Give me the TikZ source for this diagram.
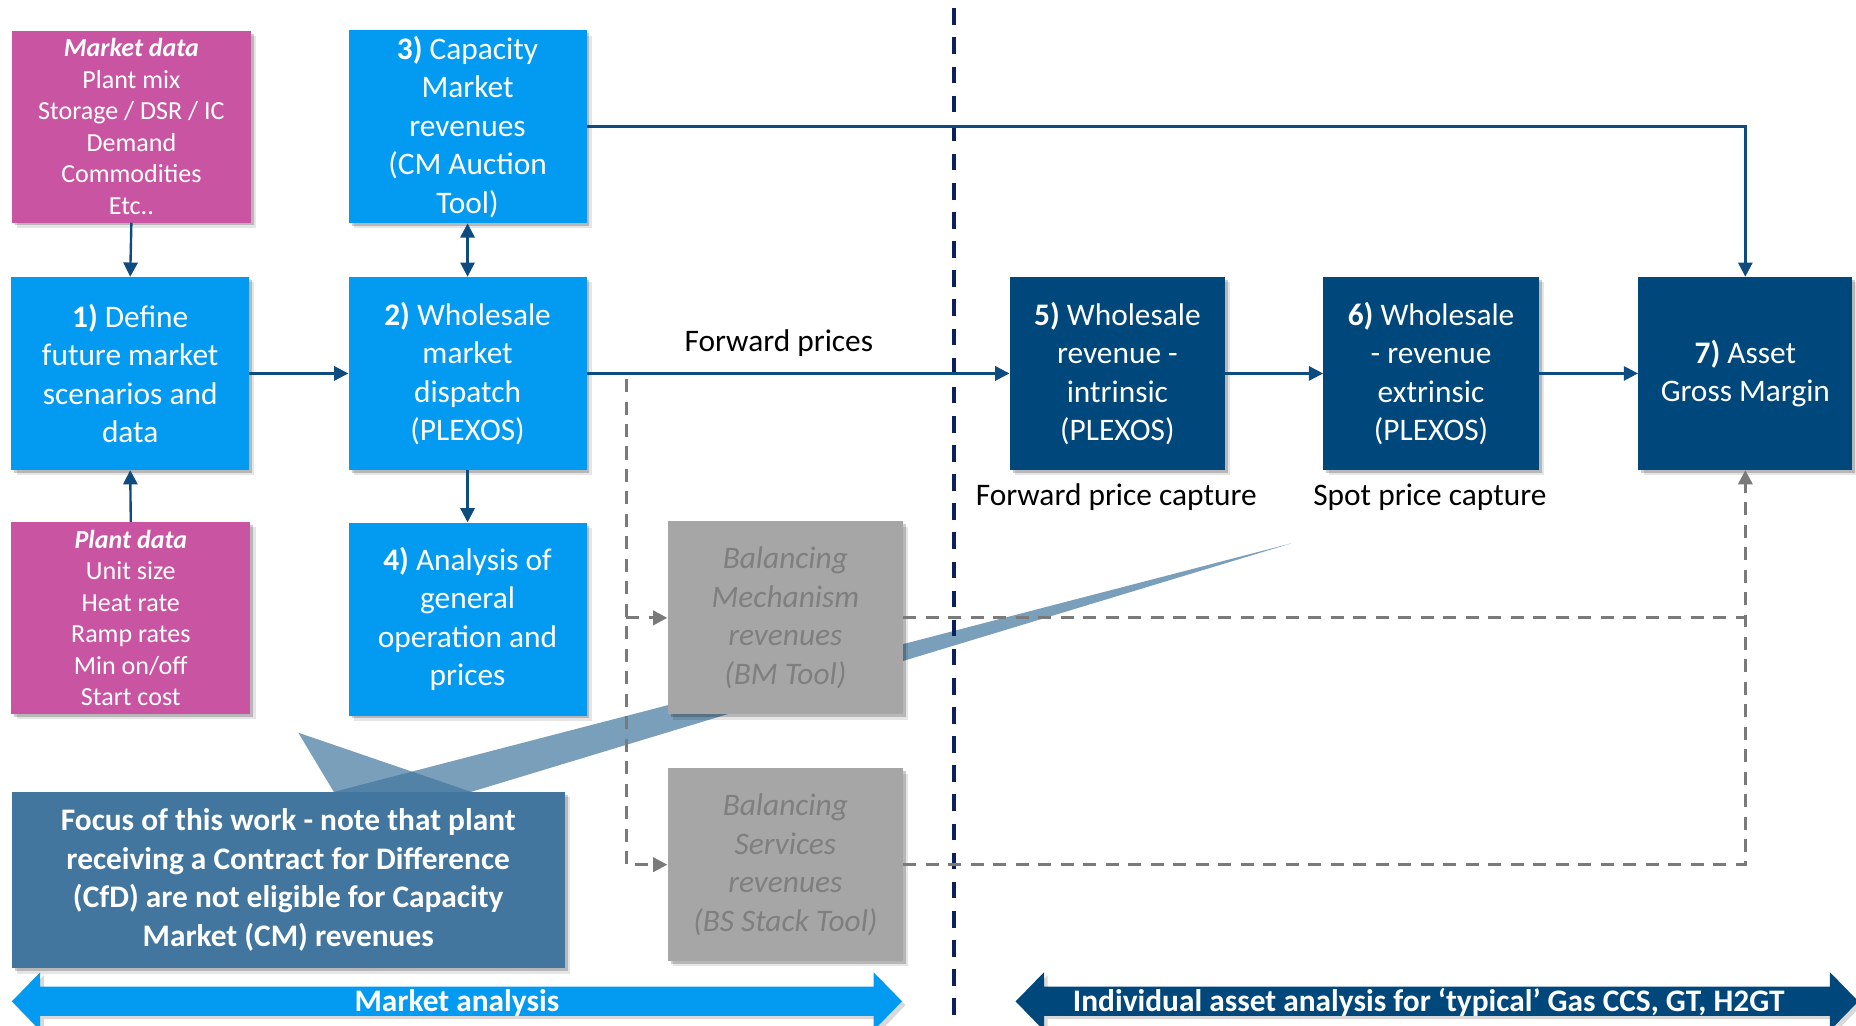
\documentclass[tikz,border=0pt]{standalone}
\usepackage{fontspec}
\setmainfont{Carlito}
\usetikzlibrary{arrows.meta,shadows}

\definecolor{lblue}{HTML}{039BF2}
\definecolor{dblue}{HTML}{00487C}
\definecolor{mdpink}{HTML}{C955A2}
\definecolor{gbox}{HTML}{A6A6A6}
\definecolor{gtext}{HTML}{7F7F7F}
\definecolor{calloutblue}{HTML}{42769E}
\definecolor{linkblue}{HTML}{0E4B7F}
\definecolor{divnavy}{HTML}{0C1F5E}
\definecolor{gline}{HTML}{7A7A7A}

\newcommand\fsbig{\fontsize{26.5}{32.5}\selectfont}
\newcommand\fssmall{\fontsize{22}{26.6}\selectfont}

\tikzset{
  shd/.style={drop shadow={shadow xshift=2.5pt,shadow yshift=-2.5pt,opacity=.2,fill=black},
              drop shadow={shadow xshift=4.5pt,shadow yshift=-4.5pt,opacity=.1,fill=black}},
  boxbase/.style={rectangle,inner sep=0pt,align=center,shd},
  mainbox/.style={boxbase,fill=lblue,text=white,font=\fsbig,minimum width=201pt,minimum height=163pt},
  assetbox/.style={boxbase,fill=dblue,text=white,font=\fsbig,minimum width=182pt,minimum height=163pt},
  databox/.style={boxbase,fill=mdpink,text=white,font=\fssmall,minimum width=202pt,minimum height=162pt},
  greybox/.style={boxbase,fill=gbox,text=gtext,font=\fsbig\itshape,minimum width=199pt,minimum height=163pt},
  conn/.style={draw=linkblue,line width=2pt,-{Triangle[length=12pt,width=12pt]}},
  gconn/.style={draw=gline,line width=2.6pt,dash pattern=on 11pt off 8pt,-{Triangle[length=12pt,width=12pt]}},
  plainlabel/.style={font=\fsbig,text=black,inner sep=0pt},
}

\begin{document}
\begin{tikzpicture}[x=1pt,y=-1pt]
\useasboundingbox (0,0) rectangle (1568,866);
\clip (0,0) rectangle (1568,866);

% callout pointers (semi-transparent wedges)
\coordinate (wl) at (282,669);
\coordinate (wr) at (398,669);
\coordinate (tipA) at (252,619);
\coordinate (tipB) at (1091,459);
\fill[calloutblue,opacity=.7] (tipA) -- (wl) -- (wr) -- cycle;
\fill[calloutblue,opacity=.7] (wl) -- (tipB) -- (wr) -- cycle;

% divider between market and asset analysis
\draw[divnavy,line width=3pt,dash pattern=on 14pt off 10.6pt] (806,7) -- (806,870);

% process boxes
\node[databox] (md) at (111,107) {\textbf{\textit{Market data}}\\Plant mix\\Storage / DSR / IC\\Demand\\Commodities\\Etc..};
\node[mainbox] (b1) at (110,315.5) {\textbf{1)} Define\\future market\\scenarios and\\data};
\node[databox] (pd) at (110.5,522) {\textbf{\textit{Plant data}}\\Unit size\\Heat rate\\Ramp rates\\Min on/off\\Start cost};
\node[mainbox] (b3) at (395,107) {\textbf{3)} Capacity\\Market\\revenues\\(CM Auction\\Tool)};
\node[mainbox] (b2) at (395,315.5) {\textbf{2)} Wholesale\\market\\dispatch\\(PLEXOS)};
\node[mainbox] (b4) at (395,523) {\textbf{4)} Analysis of\\general\\operation and\\prices};
\node[greybox] (bm) at (663.5,522) {Balancing\\Mechanism\\revenues\\(BM Tool)};
\node[greybox] (bs) at (663.5,730.5) {Balancing\\Services\\revenues\\(BS Stack Tool)};
\node[assetbox] (b5) at (944,315.5) {\textbf{5)} Wholesale\\revenue -\\intrinsic\\(PLEXOS)};
\node[assetbox] (b6) at (1209,315.5) {\textbf{6)} Wholesale\\- revenue\\extrinsic\\(PLEXOS)};
\node[assetbox,minimum width=181pt] (b7) at (1474.5,315.5) {\textbf{7)} Asset\\Gross Margin};

% callout box
\node[boxbase,fill=calloutblue,text=white,font=\fsbig\bfseries,minimum width=467pt,minimum height=149pt] (focus) at (243.5,743.5)
  {Focus of this work - note that plant\\receiving a Contract for Difference\\(CfD) are not eligible for Capacity\\Market (CM) revenues};

% labels
\node[plainlabel] (fwd) at (658,290) {Forward prices};
\node[plainlabel] (fpc) at (943,420) {Forward price capture};
\node[plainlabel] (spc) at (1208,420) {Spot price capture};

% balancing (dashed) paths
\coordinate (gx) at (529,315.5);
\draw[gconn] (b2.east) -- (gx) |- (bs.west);
\draw[gconn] (gx |- bm.west) -- (bm.west);
\draw[gconn] (bm.east) -| (b7.south);
\draw[gconn,-] (bs.east) -| (b7.south |- bm.east);

% main flow connectors
\draw[conn] (md.south) -- (b1.north);
\draw[conn] (pd.north) -- (b1.south);
\draw[conn] (b1.east) -- (b2.west);
\draw[conn,{Triangle[length=12pt,width=12pt]}-{Triangle[length=12pt,width=12pt]}] (b3.south) -- (b2.north);
\draw[conn] (b2.south) -- (b4.north);
\draw[conn] (b2.east) -- (b5.west);
\draw[conn] (b5.east) -- (b6.west);
\draw[conn] (b6.east) -- (b7.west);
\draw[conn] (b3.east) -| (b7.north);

% scope arrows along the bottom
\fill[black,opacity=.15] (13,849) -- (37,824) -- (37,836.5) -- (741,836.5) -- (741,824) -- (765,849) -- (741,874) -- (741,861) -- (37,861) -- (37,874) -- cycle;
\fill[lblue] (10,846) -- (34,821.4) -- (34,833.6) -- (738,833.6) -- (738,821.4) -- (762,846) -- (738,870.6) -- (738,858.3) -- (34,858.3) -- (34,870.6) -- cycle;
\node[font=\fsbig\bfseries,text=white,inner sep=0pt] (mkt) at (386,847) {Market analysis};

\fill[black,opacity=.15] (861,849) -- (885,824) -- (885,836.5) -- (1549,836.5) -- (1549,824) -- (1573,849) -- (1549,874) -- (1549,861) -- (885,861) -- (885,874) -- cycle;
\fill[dblue] (858,846) -- (882,821.4) -- (882,833.6) -- (1546,833.6) -- (1546,821.4) -- (1570,846) -- (1546,870.6) -- (1546,858.3) -- (882,858.3) -- (882,870.6) -- cycle;
\node[font=\fsbig\bfseries,text=white,inner sep=0pt] (asset) at (1207,847) {Individual asset analysis for ‘typical’ Gas CCS, GT, H2GT};
\end{tikzpicture}
\end{document}
